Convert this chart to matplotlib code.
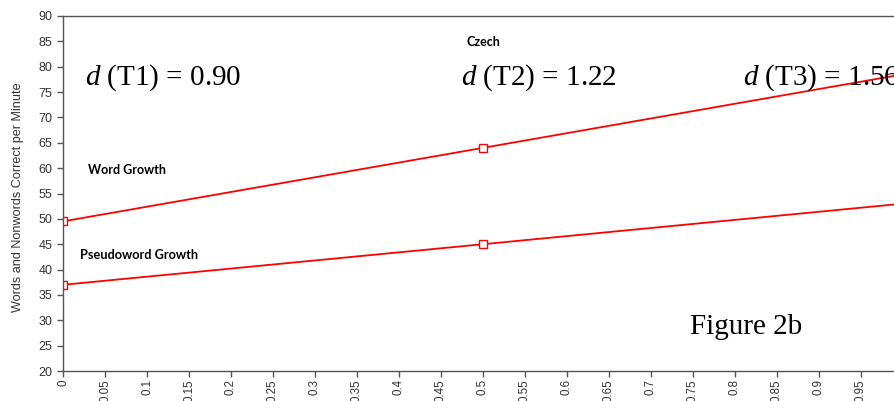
import matplotlib
matplotlib.use('Agg')
import matplotlib.pyplot as plt
import numpy as np

# growth over time, Czech sample
time_points = [0.0, 0.5, 1.0]
word_wcpm = [49.5, 64.0, 78.5]
pseudo_wcpm = [37.0, 45.0, 53.0]

effect_labels = ['T1', 'T2', 'T3']
effect_sizes = ['0.90', '1.22', '1.56']
effect_x = [0.026, 0.474, 0.8095]

plt.rcParams['mathtext.fontset'] = 'custom'
plt.rcParams['mathtext.rm'] = 'Liberation Serif'
plt.rcParams['mathtext.it'] = 'Liberation Serif:italic'

fig = plt.figure(figsize=(8.95, 4.01), dpi=100)
ax = fig.add_axes([0.0704, 0.0748, 0.9385, 0.8853])

for vals in (word_wcpm, pseudo_wcpm):
    ax.plot(time_points, vals, color='#ff0000', lw=1.3, marker='s', ms=5.5,
            mfc='white', mec='#ff0000', mew=1.0)

ax.set_xlim(0, 1.0)
ax.set_ylim(20, 90)
ax.set_xticks(np.arange(0, 1.0, 0.05))
ax.set_xticklabels(['0'] + [f'{v:g}' for v in np.arange(0.05, 1.0, 0.05).round(2)],
                   rotation=90)
ax.set_yticks(np.arange(20, 91, 5))

ax.spines['right'].set_visible(False)
for side in ('left', 'bottom', 'top'):
    ax.spines[side].set_color('#555555')
    ax.spines[side].set_linewidth(1.0)
ax.tick_params(direction='out', length=4, width=1, color='#555555',
               labelsize=9, labelcolor='#333333')
ax.tick_params(axis='x', labelsize=8.3, pad=2)
for lab in ax.get_xticklabels() + ax.get_yticklabels():
    lab.set_family('Liberation Sans')

ax.set_ylabel('Words and Nonwords Correct per Minute', fontsize=9.1,
              family='Liberation Sans', color='#333333')
ax.yaxis.set_label_coords(-0.046, 0.49)

for lbl, val, x in zip(effect_labels, effect_sizes, effect_x):
    ax.text(x, 77.8, rf'$d$ ({lbl}) = {val}', fontsize=21,
            family='Liberation Serif', va='center', ha='left')

ax.text(0.5, 84.9, 'Czech', fontsize=9, fontweight='bold', family='Lato',
        ha='center', va='center')
ax.text(0.030, 59.6, 'Word Growth', fontsize=9, fontweight='bold', family='Lato',
        ha='left', va='center')
ax.text(0.020, 42.9, 'Pseudoword Growth', fontsize=9.2, fontweight='bold',
        family='Lato', ha='left', va='center')
ax.text(0.746, 28.7, 'Figure 2b', fontsize=21, family='Liberation Serif',
        ha='left', va='center')

fig.savefig('out.png', dpi=100)
